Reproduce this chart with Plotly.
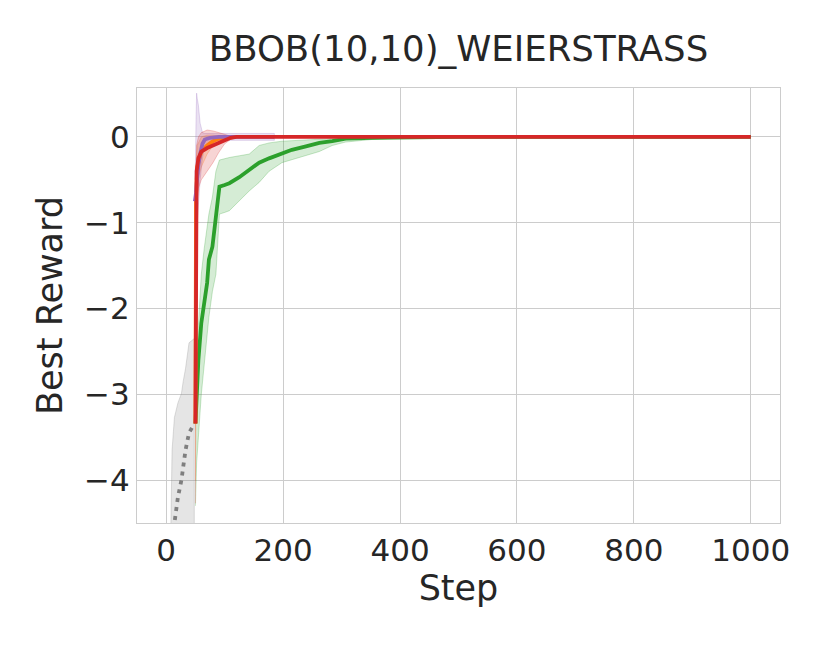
import plotly.graph_objects as go

# random-search baseline (initial steps)
gray_x = [5, 8, 10, 14, 20, 26, 29, 33, 39, 44, 48]
gray_y = [-5.3, -4.9, -4.75, -4.5, -4.2, -4.0, -3.85, -3.65, -3.45, -3.38, -3.34]
gray_hi = [-4.9, -4.5, -3.65, -3.27, -3.1, -2.99, -2.85, -2.7, -2.4, -2.37, -2.35]
gray_lo = [-6.0, -6.0, -6.0, -6.0, -6.0, -6.0, -6.0, -6.0, -6.0, -6.0, -6.0]

green_x = [50, 52, 55, 60, 65, 70, 73, 79, 85, 91, 100, 108, 125, 142, 159, 176,
           198, 215, 239, 262, 284, 307, 352, 400, 450, 500, 1000]
green_y = [-3.34, -3.0, -2.6, -2.17, -1.94, -1.7, -1.43, -1.28, -0.93, -0.58, -0.56,
           -0.54, -0.47, -0.38, -0.3, -0.25, -0.19, -0.15, -0.11, -0.07, -0.05, -0.02,
           -0.01, -0.005, 0, 0, 0]
green_hi = [-3.0, -2.5, -2.2, -1.6, -1.3, -1.05, -0.9, -0.7, -0.4, -0.27, -0.25,
            -0.24, -0.22, -0.2, -0.1, -0.07, -0.05, -0.045, -0.04, -0.03, -0.02, -0.01,
            0, 0, 0, 0, 0]
green_lo = [-4.3, -3.8, -3.5, -3.0, -2.6, -2.3, -2.1, -1.8, -1.6, -0.9, -0.88,
            -0.86, -0.75, -0.63, -0.53, -0.4, -0.3, -0.27, -0.22, -0.17, -0.1, -0.06,
            -0.03, -0.01, 0, 0, 0]

orange_x = [50, 51, 53, 56, 60, 70, 80, 90, 100, 110, 120]
orange_y = [-3.34, -0.7, -0.35, -0.25, -0.17, -0.1, -0.05, -0.02, -0.01, 0, 0]
orange_hi = [-2.8, -0.3, -0.1, -0.05, 0.0, 0.02, 0.02, 0.01, 0.0, 0, 0]
orange_lo = [-4.0, -1.1, -0.6, -0.45, -0.35, -0.2, -0.1, -0.05, -0.02, 0, 0]

purple_x = [49, 50, 51, 52, 53, 55, 58, 62, 66, 75, 90, 120, 150, 185]
purple_y = [-0.75, -0.72, -0.65, -0.55, -0.45, -0.33, -0.2, -0.08, -0.03, -0.01, 0, 0, 0, 0]
purple_hi = [-0.5, -0.3, 0.2, 0.51, 0.45, 0.37, 0.16, 0.05, 0.04, 0.04, 0.04, 0.04, 0.04, 0.04]
purple_lo = [-1.4, -1.3, -1.2, -1.1, -1.0, -0.8, -0.5, -0.25, -0.1, -0.05, -0.04, -0.04,
             -0.04, -0.04]

red_x = [50, 51, 52, 55, 60, 70, 80, 90, 100, 110, 120, 200, 400, 600, 800, 1000]
red_y = [-3.34, -0.8, -0.4, -0.25, -0.17, -0.13, -0.1, -0.06, -0.03, -0.01, 0, 0, 0, 0, 0, 0]
red_hi = [-2.5, -0.3, -0.1, 0.0, 0.05, 0.08, 0.07, 0.05, 0.03, 0.01, 0, 0, 0, 0, 0, 0]
red_lo = [-4.27, -1.3, -0.8, -0.6, -0.5, -0.4, -0.3, -0.18, -0.08, -0.03, 0, 0, 0, 0, 0, 0]

series = [
    (gray_x, gray_y, gray_hi, gray_lo, (127, 127, 127), "4px,5px"),
    (green_x, green_y, green_hi, green_lo, (44, 160, 44), "solid"),
    (orange_x, orange_y, orange_hi, orange_lo, (255, 127, 14), "solid"),
    (purple_x, purple_y, purple_hi, purple_lo, (148, 103, 189), "solid"),
    (red_x, red_y, red_hi, red_lo, (214, 39, 40), "solid"),
]

fig = go.Figure()
for x, y, hi, lo, (r, g, b), dash in series:
    fig.add_trace(go.Scatter(
        x=x + x[::-1], y=hi + lo[::-1], fill="toself", mode="lines",
        fillcolor=f"rgba({r},{g},{b},0.2)",
        line=dict(color=f"rgba({r},{g},{b},0.25)", width=1),
        hoverinfo="skip", showlegend=False))
for x, y, hi, lo, (r, g, b), dash in series:
    fig.add_trace(go.Scatter(
        x=x, y=y, mode="lines", showlegend=False,
        line=dict(color=f"rgb({r},{g},{b})", width=3.8, dash=dash)))

axis_common = dict(
    showgrid=True, gridcolor="#cccccc", gridwidth=1.2,
    showline=True, linecolor="#cccccc", linewidth=1.2, mirror=True,
    zeroline=False, ticks="", tickfont=dict(size=31, color="#262626"),
    title_font=dict(size=35, color="#262626"),
)

# page has an 8px body margin, so the figure is drawn 8px smaller
fig.update_layout(
    width=822, height=638,
    margin=dict(l=129, r=50, t=80, b=123),
    paper_bgcolor="white", plot_bgcolor="white",
    font=dict(family="DejaVu Sans", color="#262626"),
    title=dict(text="BBOB(10,10)_WEIERSTRASS", x=0.5, xref="paper",
               y=0.937, yref="container", yanchor="middle",
               font=dict(size=35.5, color="#262626")),
    xaxis=dict(range=[-50, 1050], tickvals=[0, 200, 400, 600, 800, 1000],
               title=dict(text="Step", standoff=8), **axis_common),
    yaxis=dict(range=[-4.5, 0.57], tickvals=[-4, -3, -2, -1, 0],
               ticktext=["\u22124", "\u22123", "\u22122", "\u22121", "0"],
               title=dict(text="Best Reward", standoff=10), **axis_common),
)

fig.write_html("out.html")
